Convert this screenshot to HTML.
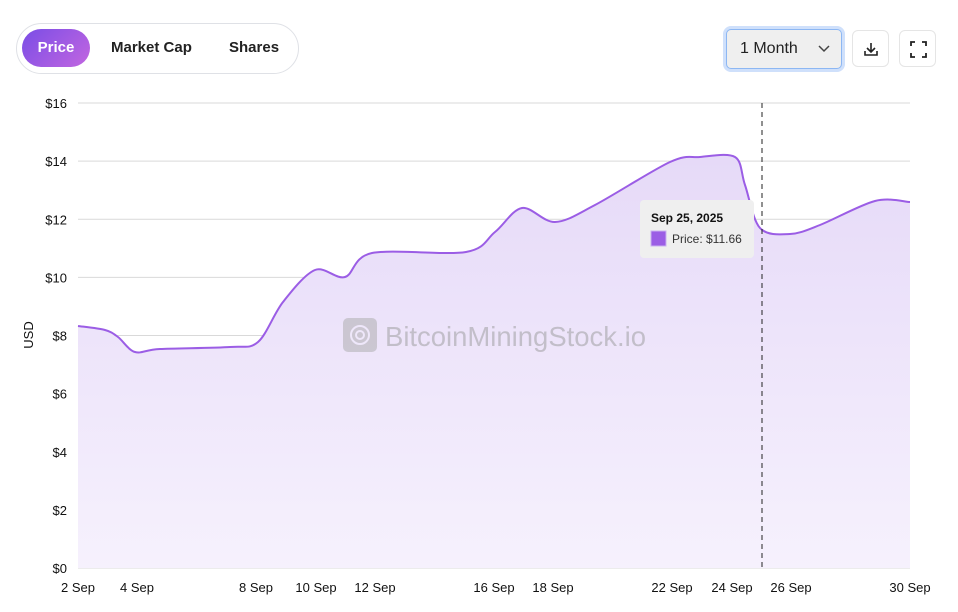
<!DOCTYPE html>
<html><head><meta charset="utf-8"><style>
body{margin:0;width:958px;height:612px;background:#fff;font-family:"Liberation Sans",sans-serif;position:relative;overflow:hidden}
.tabs{position:absolute;left:16px;top:23px;width:283px;height:51px;border:1px solid #dfe1e6;border-radius:26px;box-sizing:border-box}
.tab{position:absolute;top:29px;height:38px;line-height:38px;font-size:15px;font-weight:bold;color:#222}
.act{left:22px;width:68px;border-radius:19px;background:linear-gradient(135deg,#7a4de6,#c266e0);color:#fff;text-align:center}
.sel{position:absolute;left:726px;top:29px;width:116px;height:40px;box-sizing:border-box;border:1px solid #8db7f3;box-shadow:0 0 0 3px #cfe0fb;border-radius:5px;background:#efefef;font-size:16px;color:#222;line-height:38px;padding-left:13px}
.ib{position:absolute;top:30px;width:37px;height:37px;box-sizing:border-box;border:1px solid #e5e5e5;border-radius:6px}
</style></head><body>
<div class="tabs"></div>
<div class="tab act">Price</div>
<div class="tab" style="left:111px">Market Cap</div>
<div class="tab" style="left:229px">Shares</div>
<div class="sel">1 Month<svg style="position:absolute;left:91px;top:15px" width="12" height="8"><path d="M1 1l5 5 5-5" fill="none" stroke="#444" stroke-width="1.5"/></svg></div>
<div class="ib" style="left:852px"><svg width="37" height="37"><path d="M18 12v9M14 17l4 4 4-4M12 20v4h12v-4" fill="none" stroke="#222" stroke-width="1.6"/></svg></div>
<div class="ib" style="left:899px"><svg width="37" height="37"><path d="M11 15v-4h4M22 11h4v4M26 22v4h-4M15 26h-4v-4" fill="none" stroke="#222" stroke-width="1.8"/></svg></div>
<svg id="c" width="958" height="612" style="position:absolute;left:0;top:0" font-family="Liberation Sans, sans-serif">
<defs><linearGradient id="g" x1="0" y1="0" x2="0" y2="1"><stop offset="0" stop-color="#e6daf8"/><stop offset="1" stop-color="#f6f1fd"/></linearGradient></defs>
<g id="grid" stroke="#d9d9d9" stroke-width="1"></g>
<path id="area" fill="url(#g)"/>
<g opacity="0.5" fill="#999">
<rect x="343" y="318" width="34" height="34" rx="5" fill="#aaa"/>
<circle cx="360" cy="335" r="9" fill="none" stroke="#f0eafa" stroke-width="2"/>
<circle cx="360" cy="335" r="4" fill="none" stroke="#f0eafa" stroke-width="2"/>
<text x="385" y="346" font-size="28" textLength="261" lengthAdjust="spacingAndGlyphs" fill="#999">BitcoinMiningStock.io</text>
</g>
<path id="line" fill="none" stroke="#9b5de5" stroke-width="2"/>
<line x1="762" y1="103" x2="762" y2="568" stroke="#222" stroke-dasharray="5,4"/>
<g font-size="13" fill="#111" id="lab"></g>
<text transform="translate(33,335) rotate(-90)" font-size="13" text-anchor="middle" fill="#111">USD</text>
<rect x="640" y="200" width="114" height="58" rx="4" fill="#efefef"/>
<text x="651" y="222" font-size="12" font-weight="bold" fill="#111">Sep 25, 2025</text>
<rect x="651" y="231" width="15" height="15" fill="#9b5de5" stroke="#c9b0f0"/>
<text x="672" y="243" font-size="12" fill="#333">Price: $11.66</text>
</svg>
<script>
var s='',l='';
for(var i=0;i<=8;i++){var y=568-i*58.125;s+='<line x1="78" x2="910" y1="'+y+'" y2="'+y+'"/>';l+='<text x="67" y="'+(y+5)+'" text-anchor="end">$'+(i*2)+'</text>';}
document.getElementById('grid').innerHTML=s;
var t=[[78,'2 Sep'],[137,'4 Sep'],[256,'8 Sep'],[316,'10 Sep'],[375,'12 Sep'],[494,'16 Sep'],[553,'18 Sep'],[672,'22 Sep'],[732,'24 Sep'],[791,'26 Sep'],[910,'30 Sep']];
t.forEach(function(a){l+='<text x="'+a[0]+'" y="592" text-anchor="middle">'+a[1]+'</text>';});
document.getElementById('lab').innerHTML=l;
var p=[[78,326],[105,330],[118,337],[135,352],[160,349],[230,347],[258,342],[283,302],[315,270],[345,277],[372,253],[466,252],[495,232],[522,208],[555,222],[595,205],[670,162],[700,157],[735,157],[745,185],[760,228],[790,234],[820,225],[875,201],[910,202]];
var d='M'+p[0];
for(var i=0;i<p.length-1;i++){var a=p[i-1]||p[i],b=p[i],c=p[i+1],e=p[i+2]||c;
var k=0.16;d+='C'+(b[0]+(c[0]-a[0])*k)+','+(b[1]+(c[1]-a[1])*k)+' '+(c[0]-(e[0]-b[0])*k)+','+(c[1]-(e[1]-b[1])*k)+' '+c[0]+','+c[1];}
document.getElementById('line').setAttribute('d',d);
document.getElementById('area').setAttribute('d',d+'L910,568L78,568Z');
</script>
</body></html>
